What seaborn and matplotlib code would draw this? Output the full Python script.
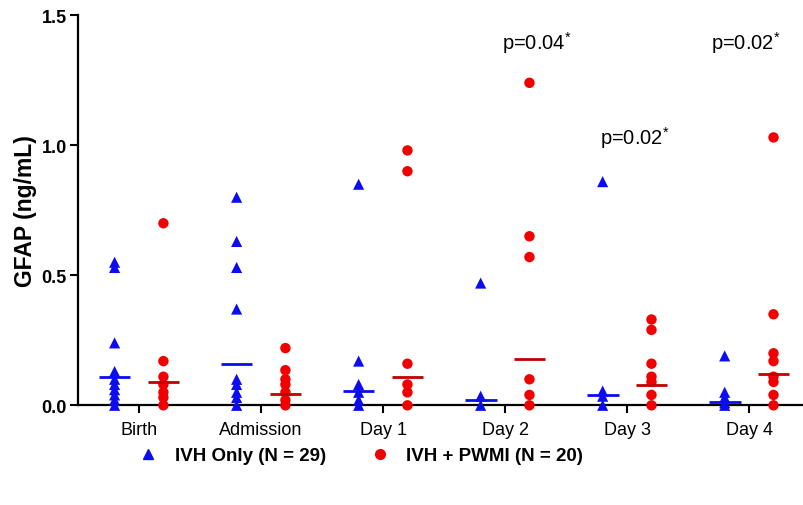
import numpy as np
import pandas as pd
import matplotlib
matplotlib.use('Agg')
import matplotlib.pyplot as plt
import seaborn as sns

# Values (ng/mL)
days = ['Birth', 'Admission', 'Day 1', 'Day 2', 'Day 3', 'Day 4']
groups = ['IVH Only (N = 29)', 'IVH + PWMI (N = 20)']

ivh_birth = [0.55, 0.53, 0.24, 0.13, 0.10, 0.08, 0.06, 0.04, 0.02, 0.0]
ivh_adm = [0.80, 0.63, 0.53, 0.37, 0.10, 0.08, 0.05, 0.03, 0.0]
ivh_d1 = [0.85, 0.17, 0.08, 0.05, 0.02, 0.0]
ivh_d2 = [0.47, 0.035, 0.0]
ivh_d3 = [0.86, 0.055, 0.035, 0.0]
ivh_d4 = [0.19, 0.05, 0.03, 0.01, 0.0]

pwmi_birth = [0.70, 0.17, 0.11, 0.08, 0.05, 0.03, 0.0]
pwmi_adm = [0.22, 0.135, 0.10, 0.08, 0.05, 0.02, 0.0]
pwmi_d1 = [0.98, 0.90, 0.16, 0.08, 0.05, 0.0]
pwmi_d2 = [1.24, 0.65, 0.57, 0.10, 0.04, 0.0]
pwmi_d3 = [0.33, 0.29, 0.16, 0.11, 0.09, 0.04, 0.0]
pwmi_d4 = [1.03, 0.35, 0.20, 0.17, 0.11, 0.09, 0.04, 0.0]

# median bars
ivh_median = [0.11, 0.16, 0.055, 0.02, 0.04, 0.012]
pwmi_median = [0.09, 0.045, 0.11, 0.177, 0.08, 0.12]

p_labels = ['p=0.04', 'p=0.02', 'p=0.02']
p_days = ['Day 2', 'Day 3', 'Day 4']
p_heights = [1.395, 1.03, 1.395]
p_shift = [0.26, 0.06, -0.03]

ivh_vals = [ivh_birth, ivh_adm, ivh_d1, ivh_d2, ivh_d3, ivh_d4]
pwmi_vals = [pwmi_birth, pwmi_adm, pwmi_d1, pwmi_d2, pwmi_d3, pwmi_d4]

rows = []
for d, v in zip(days, ivh_vals):
    rows += [(d, groups[0], x) for x in v]
for d, v in zip(days, pwmi_vals):
    rows += [(d, groups[1], x) for x in v]
df = pd.DataFrame(rows, columns=['day', 'group', 'gfap'])

sns.set_style('white')
plt.rcParams['font.family'] = ['Liberation Sans', 'DejaVu Sans']
plt.rcParams['mathtext.fontset'] = 'custom'
plt.rcParams['mathtext.rm'] = 'Liberation Sans'
plt.rcParams['text.color'] = 'black'
plt.rcParams['xtick.color'] = 'black'
plt.rcParams['ytick.color'] = 'black'
plt.rcParams['axes.labelcolor'] = 'black'

blue = '#0c0cf0'
red = '#f20000'

fig = plt.figure(figsize=(8.04, 5.06), dpi=100)
ax = fig.add_axes([0.097, 0.197, 0.903, 0.771])

sns.stripplot(data=df[df.group == groups[0]], x='day', y='gfap', hue='group',
              order=days, hue_order=groups, palette=[blue, red], dodge=True,
              jitter=False, marker='^', size=8, linewidth=0, ax=ax)
sns.stripplot(data=df[df.group == groups[1]], x='day', y='gfap', hue='group',
              order=days, hue_order=groups, palette=[blue, red], dodge=True,
              jitter=False, marker='o', size=7.5, linewidth=0, ax=ax)
for c in ax.collections:
    c.set_clip_on(False)

# median lines
pos = np.arange(len(days))
ax.hlines(ivh_median, pos - 0.2 - 0.13, pos - 0.2 + 0.13, color=blue, lw=2, zorder=3)
ax.hlines(pwmi_median, pos + 0.2 - 0.13, pos + 0.2 + 0.13, color='#c00000', lw=2, zorder=3)

for lab, d, h, s in zip(p_labels, p_days, p_heights, p_shift):
    ax.text(days.index(d) + s, h, lab + r'$^{*}$', ha='center', va='center', fontsize=14.5)

ax.set_xlim(-0.5, 5.45)
ax.set_ylim(0, 1.5)
ax.set_yticks([0.0, 0.5, 1.0, 1.5])
ax.set_yticklabels(['0.0', '0.5', '1.0', '1.5'], fontweight='bold', fontsize=13)
ax.set_xticks(pos)
ax.set_xticklabels(days, fontsize=13)
ax.set_xlabel('')
ax.set_ylabel('GFAP (ng/mL)', fontweight='bold', fontsize=16.5, labelpad=3)
ax.tick_params(axis='both', direction='out', length=6, width=1.5, color='black',
               bottom=True, left=True, pad=2)
ax.tick_params(axis='x', pad=5)
sns.despine(ax=ax)
for s in ['left', 'bottom']:
    ax.spines[s].set_linewidth(1.6)
    ax.spines[s].set_color('black')

if ax.legend_:
    ax.legend_.remove()
handles = [plt.Line2D([], [], marker='^', color=blue, ls='none', markersize=7),
           plt.Line2D([], [], marker='o', color=red, ls='none', markersize=7)]
leg = fig.legend(handles, groups, loc='center', bbox_to_anchor=(0.448, 0.097), ncol=2,
                 frameon=False, prop={'weight': 'bold', 'size': 13.5},
                 columnspacing=2.3, handletextpad=0.8, handlelength=1.2)

fig.savefig('out.png', dpi=100)
